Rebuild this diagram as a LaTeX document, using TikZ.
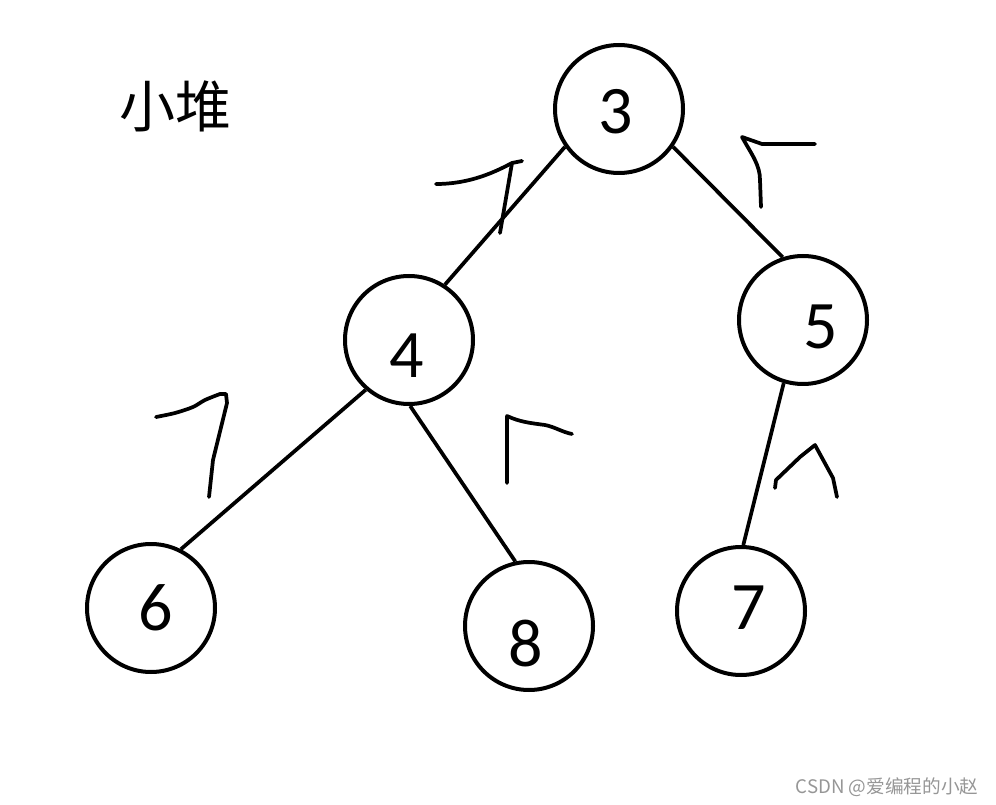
\documentclass[tikz,border=0pt]{standalone}
\usepackage{fontspec}
\setmainfont{Carlito}
\newfontfamily\cjk{Noto Sans CJK SC}
\definecolor{wmgray}{RGB}{150,150,150}
\begin{document}
\begin{tikzpicture}[x=0.75pt,y=-0.75pt,
  heapnode/.style={circle,draw,line width=3pt,minimum size=96pt,inner sep=0pt},
  digit/.style={inner sep=0pt,font=\fontsize{51}{51}\selectfont},
  edge/.style={line width=2.8pt},
  handmark/.style={line width=2.8pt,line cap=round,line join=round}]
\useasboundingbox (0,0) rectangle (996,805);
% nodes
\node[heapnode] (c3) at (619,109) {};
\node[heapnode] (c4) at (409,340) {};
\node[heapnode] (c5) at (803,320) {};
\node[heapnode] (c6) at (151,608) {};
\node[heapnode] (c8) at (529,626) {};
\node[heapnode] (c7) at (741,611) {};
\node[digit] (t3) at (616,112) {3};
\node[digit] (t4) at (407,356) {4};
\node[digit] (t5) at (821,327) {5};
\node[digit] (t6) at (156,608) {6};
\node[digit] (t8) at (526,644) {8};
\node[digit] (t7) at (749,608) {7};
% edges
\draw[edge] (c3.215) -- (c4.57);
\draw[edge] (c3.-35) -- (c5.108);
\draw[edge] (c4.229) -- (c6.63);
\draw[edge] (c4.-89) -- (c8.102);
\draw[edge] (c5.253) -- (c7.88);
% title
\node[inner sep=0pt,font=\cjk\fontsize{42}{42}\selectfont] (title) at (175,106) {小堆};
% watermark
\node[inner sep=0pt,text=wmgray,font=\cjk\fontsize{14}{14}\selectfont] (wm) at (887,787) {CSDN @爱编程的小赵};
% hand-drawn marks
\draw[handmark] (436,184) .. controls (470,184) and (495,172) .. (512,163) -- (522,161);
\draw[handmark] (512,163) -- (500,233);
\draw[handmark] (815,144) -- (762,144) -- (742,137) .. controls (752,155) and (760,165) .. (760,180) -- (761,207);
\draw[handmark] plot[smooth] coordinates {(156,417) (175,413) (193,407) (205,400) (220,394)} -- (226,394) -- (227,403) -- (213,460) -- (209,497);
\draw[handmark] (507,483) -- (507,416) .. controls (520,422) and (530,423) .. (545,425) .. controls (555,427) and (562,432) .. (572,434);
\draw[handmark] (775,488) -- (776,480) -- (800,457) -- (815,445) -- (833,478) -- (837,497);
\end{tikzpicture}
\end{document}
